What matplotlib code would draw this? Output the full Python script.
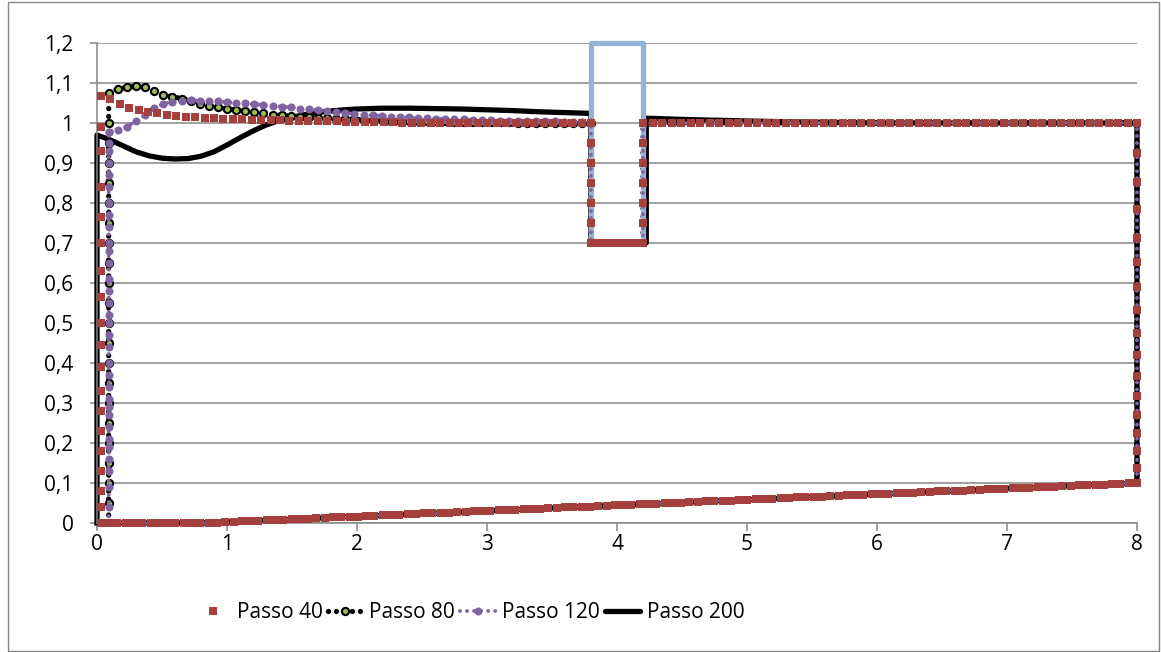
import numpy as np
import matplotlib
matplotlib.use('Agg')
import matplotlib.pyplot as plt
from matplotlib.lines import Line2D
from matplotlib.patches import Rectangle

plt.rcParams['font.family'] = ['Open Sans', 'DejaVu Sans']

# ---------------- data ----------------
series_names = ['Passo 40', 'Passo 80', 'Passo 120', 'Passo 200']
x_ticks = [0, 1, 2, 3, 4, 5, 6, 7, 8]
x_tick_labels = ['0', '1', '2', '3', '4', '5', '6', '7', '8']
y_ticks = [0.0, 0.1, 0.2, 0.3, 0.4, 0.5, 0.6, 0.7, 0.8, 0.9, 1.0, 1.1, 1.2]
y_tick_labels = ['0', '0,1', '0,2', '0,3', '0,4', '0,5', '0,6', '0,7', '0,8',
                 '0,9', '1', '1,1', '1,2']

# shared bottom boundary, x from 0.03 to 8
bottom_x = np.linspace(0.03, 8.0, 126)
bottom_y = [0.000, 0.000, 0.000, 0.000, 0.000, 0.000, 0.000, 0.000, 0.000, 0.000, 0.000, 0.000, 0.000,
            0.000, 0.001, 0.002, 0.003, 0.004, 0.005, 0.006, 0.007, 0.008, 0.008,
            0.009, 0.010, 0.011, 0.012, 0.013, 0.014, 0.015, 0.016, 0.016, 0.017,
            0.018, 0.019, 0.020, 0.021, 0.022, 0.023, 0.024, 0.024, 0.025, 0.026,
            0.027, 0.028, 0.029, 0.030, 0.031, 0.032, 0.032, 0.033, 0.034, 0.035,
            0.036, 0.037, 0.038, 0.039, 0.040, 0.040, 0.041, 0.042, 0.043, 0.044,
            0.045, 0.046, 0.047, 0.048, 0.048, 0.049, 0.050, 0.051, 0.052, 0.053,
            0.054, 0.055, 0.056, 0.056, 0.057, 0.058, 0.059, 0.060, 0.061, 0.062,
            0.063, 0.064, 0.064, 0.065, 0.066, 0.067, 0.068, 0.069, 0.070, 0.071,
            0.072, 0.072, 0.073, 0.074, 0.075, 0.076, 0.077, 0.078, 0.079, 0.080,
            0.080, 0.081, 0.082, 0.083, 0.084, 0.085, 0.086, 0.087, 0.088, 0.088,
            0.089, 0.090, 0.091, 0.092, 0.093, 0.094, 0.095, 0.096, 0.096, 0.097,
            0.098, 0.099, 0.100]

# notch (obstacle) geometry
notch_x0 = 3.8
notch_x1 = 4.2
notch_floor = 0.7
obstacle_x = [3.8, 3.8, 4.2, 4.2]
obstacle_y = [0.7, 1.2, 1.2, 0.7]

# ---- Passo 40 (square markers) ----
p40_left_x = 0.03
p40_left_y = [0.0, 0.04, 0.08, 0.13, 0.18, 0.23, 0.28, 0.33, 0.39, 0.445, 0.50,
              0.565, 0.63, 0.70, 0.765, 0.84, 0.93, 0.989]
p40_top_x = np.linspace(0.03, 3.8, 53)
p40_top_y = [1.067, 1.061, 1.048, 1.038, 1.032, 1.027, 1.024, 1.021, 1.018, 1.016,
             1.014, 1.013, 1.012, 1.010, 1.009, 1.009, 1.008, 1.008, 1.007, 1.007,
             1.006, 1.006, 1.005, 1.005, 1.004, 1.004, 1.003, 1.003, 1.002, 1.002,
             1.002, 1.002, 1.001, 1.001, 1.001, 1.001, 1.001, 1.001, 1.001, 1.000,
             1.000, 1.000, 1.000, 1.000, 1.000, 1.000, 1.000, 1.000, 1.000, 1.000,
             1.000, 1.000, 1.000]
p40_notch_down_y = [0.95, 0.90, 0.85, 0.80, 0.75, 0.70]
p40_floor_x = np.linspace(3.8, 4.2, 11)
p40_floor_y = [0.7, 0.7, 0.7, 0.7, 0.7, 0.7, 0.7, 0.7, 0.7, 0.7, 0.7]
p40_notch_up_y = [0.75, 0.80, 0.85, 0.90, 0.95, 1.00]
p40_top_right_x = np.linspace(4.2, 8.0, 53)
p40_top_right_y = [1.0, 1.0, 1.0, 1.0, 1.0, 1.0, 1.0, 1.0, 1.0, 1.0, 1.0, 1.0, 1.0, 1.0,
                   1.0, 1.0, 1.0, 1.0, 1.0, 1.0, 1.0, 1.0, 1.0, 1.0, 1.0, 1.0, 1.0, 1.0,
                   1.0, 1.0, 1.0, 1.0, 1.0, 1.0, 1.0, 1.0, 1.0, 1.0, 1.0, 1.0, 1.0, 1.0,
                   1.0, 1.0, 1.0, 1.0, 1.0, 1.0, 1.0, 1.0, 1.0, 1.0, 1.0]
p40_right_y = [1.0, 0.925, 0.853, 0.785, 0.713, 0.653, 0.59, 0.533, 0.475, 0.42,
               0.368, 0.318, 0.27, 0.225, 0.18, 0.138, 0.1]

# ---- Passo 80 ----
p80_left_x = 0.09
p80_left_y = [0.0, 0.05, 0.10, 0.15, 0.20, 0.25, 0.30, 0.35, 0.40, 0.45, 0.50,
              0.55, 0.60, 0.65, 0.70, 0.75, 0.80, 0.85, 0.90, 0.95, 1.00]
p80_top_x = np.linspace(0.09, 3.8, 54)
p80_top_y = [1.076, 1.085, 1.089, 1.092, 1.089, 1.080, 1.071, 1.066, 1.061, 1.056,
             1.048, 1.043, 1.039, 1.035, 1.032, 1.029, 1.027, 1.024, 1.021, 1.019,
             1.017, 1.016, 1.014, 1.013, 1.012, 1.011, 1.010, 1.009, 1.008, 1.007,
             1.007, 1.006, 1.006, 1.005, 1.005, 1.004, 1.004, 1.004, 1.003, 1.003,
             1.003, 1.002, 1.002, 1.002, 1.002, 1.001, 1.001, 1.001, 1.001, 1.001,
             1.000, 1.000, 1.000, 1.000]

# ---- Passo 120 ----
p120_left_x = 0.09
p120_left_y = [0.0, 0.04, 0.09, 0.13, 0.16, 0.19, 0.21, 0.24, 0.27, 0.29, 0.31,
               0.34, 0.37, 0.40, 0.44, 0.47, 0.50, 0.52, 0.55, 0.58, 0.61, 0.65,
               0.68, 0.70, 0.74, 0.77, 0.80, 0.84, 0.87, 0.90, 0.93, 0.95, 0.978]
p120_top_x = np.linspace(0.09, 3.8, 54)
p120_top_y = [0.978, 0.983, 0.991, 1.005, 1.020, 1.037, 1.048, 1.053, 1.056, 1.057,
              1.056, 1.055, 1.054, 1.052, 1.050, 1.049, 1.047, 1.045, 1.043, 1.041,
              1.039, 1.036, 1.034, 1.032, 1.030, 1.028, 1.025, 1.023, 1.021, 1.019,
              1.018, 1.016, 1.015, 1.014, 1.013, 1.012, 1.011, 1.010, 1.009, 1.009,
              1.008, 1.007, 1.007, 1.006, 1.006, 1.005, 1.005, 1.004, 1.004, 1.004,
              1.003, 1.003, 1.003, 1.003]

# ---- Passo 200 ----
p200_top_x = [0.0, 0.1, 0.2, 0.3, 0.4, 0.5, 0.6, 0.7, 0.8, 0.9, 1.0, 1.1, 1.2, 1.3,
              1.4, 1.5, 1.6, 1.7, 1.8, 1.9, 2.0, 2.2, 2.4, 2.6, 2.8, 3.0, 3.2, 3.4,
              3.6, 3.8]
p200_top_y = [0.970, 0.958, 0.943, 0.928, 0.918, 0.912, 0.910, 0.911, 0.917, 0.928,
              0.945, 0.963, 0.980, 0.995, 1.006, 1.014, 1.021, 1.026, 1.030, 1.033,
              1.035, 1.037, 1.037, 1.036, 1.035, 1.033, 1.031, 1.028, 1.026, 1.024]
p200_notch_right_x = 4.225
p200_right_top_x = [4.225, 4.5, 5.0, 5.5, 6.0, 8.0]
p200_right_top_y = [1.012, 1.009, 1.005, 1.002, 1.0, 1.0]

# ---------------- colours ----------------
c_red = '#A5403D'
c_green = '#9BBB59'
c_purple = '#8064A2'
c_blue = '#95B3D7'
c_grid = '#868686'


def closed_path(left_x, left_y, top_x, top_y, mid_x, mid_y, rtop_x, rtop_y, right_y):
    xs = [left_x] * len(left_y) + list(top_x) + list(mid_x) + list(rtop_x) \
        + [8.0] * len(right_y) + list(bottom_x[::-1])
    ys = list(left_y) + list(top_y) + list(mid_y) + list(rtop_y) \
        + list(right_y) + list(bottom_y[::-1])
    return xs, ys


fig = plt.figure(figsize=(11.61, 6.52), dpi=100)
ax = fig.add_axes([97 / 1161, 1 - 523 / 652, (1137 - 97) / 1161, (523 - 43) / 652])

# Passo 200 : black solid line
x200, y200 = closed_path(0.0, [0.0], p200_top_x, p200_top_y,
                         [notch_x0, p200_notch_right_x], [notch_floor, notch_floor],
                         p200_right_top_x, p200_right_top_y, [1.0, 0.1])
ax.plot(x200, y200, color='black', lw=3.8, solid_joinstyle='round', zorder=2, clip_on=False)

# Passo 80 : black round-dot line with green markers
x80, y80 = closed_path(p80_left_x, p80_left_y, p80_top_x, p80_top_y,
                       [notch_x0, notch_x0, notch_x1, notch_x1],
                       [0.85, notch_floor, notch_floor, 0.85],
                       [notch_x1, 8.0], [1.0, 1.0], [1.0, 0.1])
ax.plot(x80, y80, color='black', lw=3.8, ls=(0, (0.01, 1.5)), dash_capstyle='round',
        zorder=3, clip_on=False)
ax.plot([p80_left_x] * len(p80_left_y) + list(p80_top_x), p80_left_y + p80_top_y,
        ls='none', marker='o', ms=5.2, mfc=c_green, mec='black', mew=1.5, zorder=3.1)

# obstacle outline (light blue)
ax.plot(obstacle_x, obstacle_y, color=c_blue, lw=3.8, solid_joinstyle='round',
        solid_capstyle='round', zorder=4, clip_on=False)

# Passo 120 : purple round-dot line with markers
x120, y120 = closed_path(p120_left_x, p120_left_y, p120_top_x, p120_top_y,
                         [notch_x0, notch_x0, notch_x1, notch_x1],
                         [0.85, notch_floor, notch_floor, 0.85],
                         [notch_x1, 8.0], [1.0, 1.0], [1.0, 0.1])
ax.plot(x120, y120, color=c_purple, lw=2.8, ls=(0, (0.01, 1.8)), dash_capstyle='round',
        zorder=5, clip_on=False)
ax.plot([p120_left_x] * len(p120_left_y) + list(p120_top_x), p120_left_y + p120_top_y,
        ls='none', marker='o', ms=4.8, mfc=c_purple, mec=c_purple, zorder=5.1)

# Passo 40 : red squares only
x40 = ([p40_left_x] * len(p40_left_y) + list(p40_top_x) + [notch_x0] * len(p40_notch_down_y)
       + list(p40_floor_x) + [notch_x1] * len(p40_notch_up_y) + list(p40_top_right_x)
       + [8.0] * len(p40_right_y) + list(bottom_x))
y40 = (p40_left_y + p40_top_y + p40_notch_down_y + p40_floor_y + p40_notch_up_y
       + p40_top_right_y + p40_right_y + bottom_y)
ax.plot(x40, y40, ls='none', marker='s', ms=5.6, mfc=c_red, mec=c_red, mew=0,
        zorder=6, clip_on=False)

# ---------------- axes styling ----------------
ax.set_xlim(0, 8)
ax.set_ylim(0, 1.2)
ax.set_xticks(x_ticks)
ax.set_xticklabels(x_tick_labels)
ax.set_yticks(y_ticks)
ax.set_yticklabels(y_tick_labels)
for s in ['top', 'right']:
    ax.spines[s].set_visible(False)
for s in ['left', 'bottom']:
    ax.spines[s].set_color(c_grid)
    ax.spines[s].set_linewidth(1.1)
ax.yaxis.grid(True, color=c_grid, lw=1.1)
ax.set_axisbelow(True)
ax.tick_params(axis='y', direction='out', length=5, width=1.1, color=c_grid,
               labelsize=15, pad=12)
ax.tick_params(axis='x', direction='out', length=6, width=1.1, color=c_grid,
               labelsize=15, pad=2)

# legend
handles = [
    Line2D([], [], ls='none', marker='s', ms=5.6, mfc=c_red, mec=c_red, mew=0),
    Line2D([], [], color='black', lw=3.8, ls=(0, (0.01, 1.5)), dash_capstyle='round',
           marker='o', ms=5.2, mfc=c_green, mec='black', mew=1.5),
    Line2D([], [], color=c_purple, lw=2.8, ls=(0, (0.01, 1.8)), dash_capstyle='round',
           marker='o', ms=4.8, mfc=c_purple, mec=c_purple),
    Line2D([], [], color='black', lw=3.8, solid_capstyle='round'),
]
fig.legend(handles, series_names, loc='center left', bbox_to_anchor=(195 / 1161, 1 - 613 / 652),
           ncol=4, frameon=False, fontsize=15, handlelength=1.7, handletextpad=0.3,
           columnspacing=0.25, borderpad=0.0, borderaxespad=0.0)

# chart area border
fig.patches.append(Rectangle((8 / 1161, 1 / 652), (1159 - 8) / 1161, (650 - 1) / 652,
                             transform=fig.transFigure, fill=False, ec=c_grid, lw=1.0))

fig.savefig('out.png', dpi=100)
